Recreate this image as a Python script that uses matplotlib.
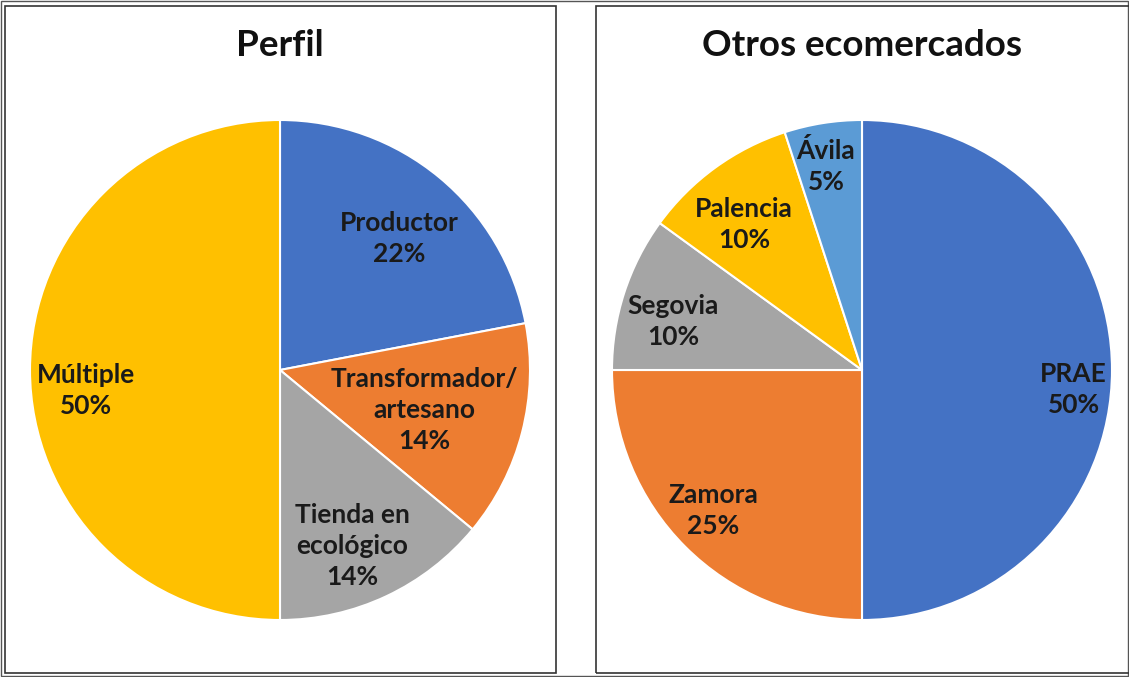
import numpy as np
import matplotlib
matplotlib.use("Agg")
import matplotlib.pyplot as plt
from matplotlib.patches import Rectangle

plt.rcParams["font.family"] = ["Lato", "DejaVu Sans"]

# Perfil
perfil_labels = ["Productor", "Transformador/\nartesano", "Tienda en\necológico", "Múltiple"]
perfil_values = [22, 14, 14, 50]
perfil_colors = ["#4472C4", "#ED7D31", "#A5A5A5", "#FFC000"]

# Otros ecomercados
otros_labels = ["PRAE", "Zamora", "Segovia", "Palencia", "Ávila"]
otros_values = [50, 25, 10, 10, 5]
otros_colors = ["#4472C4", "#ED7D31", "#A5A5A5", "#FFC000", "#5B9BD5"]

# label placement: (radius fraction, angle offset in degrees)
perfil_pos = [(0.71, -2.7), (0.60, -1.0), (0.76, -2.8), (0.78, 6.0)]
otros_pos = [(0.85, -5.4), (0.82, -1.6), (0.78, 3.7), (0.75, 2.9), (0.83, 1.0)]

W, H = 1129, 677
fig = plt.figure(figsize=(W / 100, H / 100), dpi=100)

# panel frames
fig.patches.append(Rectangle((1 / W, 1 / H), (W - 2) / W, (H - 2) / H, transform=fig.transFigure,
                             fill=False, edgecolor="#555555", linewidth=1.0))
fig.patches.append(Rectangle((5 / W, 4 / H), 551 / W, 667 / H, transform=fig.transFigure,
                             fill=False, edgecolor="#333333", linewidth=1.2))
fig.patches.append(Rectangle((596 / W, 4 / H), 540 / W, 667 / H, transform=fig.transFigure,
                             fill=False, edgecolor="#333333", linewidth=1.2))


def draw_pie(cx, title, labels, values, colors, pos):
    R = 250
    ax = fig.add_axes([(cx - R) / W, (677 - 370 - R) / H, 2 * R / W, 2 * R / H])
    wedges, _ = ax.pie(values, colors=colors, startangle=90, counterclock=False,
                       radius=1, wedgeprops=dict(edgecolor="white", linewidth=1.5))
    total = sum(values)
    for w, lab, v, (r, off) in zip(wedges, labels, values, pos):
        ang = np.deg2rad((w.theta1 + w.theta2) / 2 + off)
        ax.text(r * np.cos(ang), r * np.sin(ang), f"{lab}\n{round(100 * v / total)}%",
                ha="center", va="center", fontsize=19, fontweight="bold",
                color="#1a1a1a", linespacing=1.35)
    ax.set_xlim(-1, 1)
    ax.set_ylim(-1, 1)
    ax.axis("off")
    fig.text(cx / W, 1 - 45 / H, title, ha="center", va="center",
             fontsize=26.5, fontweight="bold", color="#111111")


draw_pie(280, "Perfil", perfil_labels, perfil_values, perfil_colors, perfil_pos)
draw_pie(862, "Otros ecomercados", otros_labels, otros_values, otros_colors, otros_pos)

fig.savefig("out.png", dpi=100)
